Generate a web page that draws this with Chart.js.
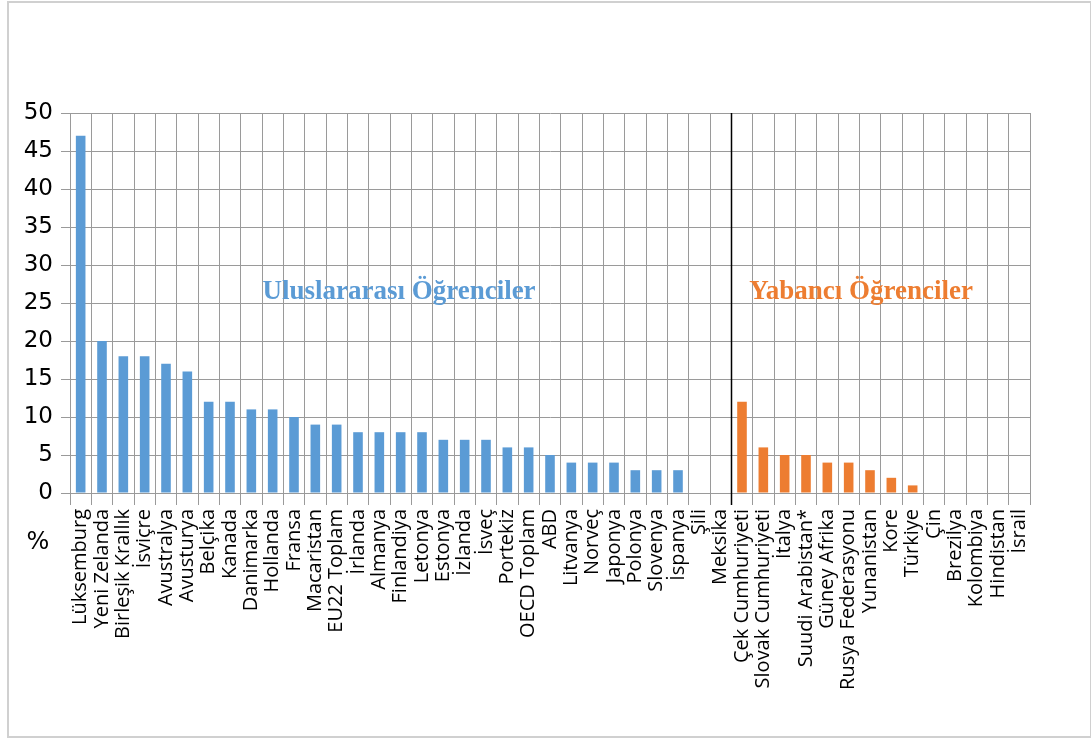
<!DOCTYPE html>
<html>
<head>
<meta charset="utf-8">
<script src="https://cdn.jsdelivr.net/npm/chart.js@4"></script>
<style>
  html, body { margin: 0; padding: 0; background: #fff; }
  #wrap { position: relative; width: 1091px; height: 738px; }
  #frame { position: absolute; left: 7px; top: 1px; width: 1081px; height: 733px; border: 2px solid #d0d0d0; pointer-events: none; }
</style>
</head>
<body>
<div id="wrap">
  <canvas id="chart" width="1091" height="738"></canvas>
  <div id="frame"></div>
</div>
<script>
const countries = [
  "Lüksemburg", "Yeni Zelanda", "Birleşik Krallık", "İsviçre", "Avustralya",
  "Avusturya", "Belçika", "Kanada", "Danimarka", "Hollanda", "Fransa",
  "Macaristan", "EU22 Toplam", "İrlanda", "Almanya", "Finlandiya", "Letonya",
  "Estonya", "İzlanda", "İsveç", "Portekiz", "OECD Toplam", "ABD", "Litvanya",
  "Norveç", "Japonya", "Polonya", "Slovenya", "İspanya", "Şili", "Meksika",
  "Çek Cumhuriyeti", "Slovak Cumhuriyeti", "İtalya", "Suudi Arabistan*",
  "Güney Afrika", "Rusya Federasyonu", "Yunanistan", "Kore", "Türkiye", "Çin",
  "Brezilya", "Kolombiya", "Hindistan", "İsrail"
];

// Uluslararası öğrenciler (left group), null where no bar
const international = [
  47, 20, 18, 18, 17, 16, 12, 12, 11, 11, 10, 9, 9, 8, 8, 8, 8, 7, 7, 7,
  6, 6, 5, 4, 4, 4, 3, 3, 3, null, null
];
// Yabancı öğrenciler (right group)
const foreign = [12, 6, 5, 5, 4, 4, 3, 2, 1, null, null, null, null, null];

const yTicks = [0, 5, 10, 15, 20, 25, 30, 35, 40, 45, 50];

const blue = "#5b9bd5";
const orange = "#ed7d31";
const gridColor = "#9a9a9a";

const splitAt = international.length; // first foreign index

const blueData = countries.map((_, i) => (i < splitAt ? international[i] : null));
const orangeData = countries.map((_, i) => (i >= splitAt ? foreign[i - splitAt] : null));

const extras = {
  id: "extras",
  afterDatasetsDraw(chart) {
    const { ctx, chartArea, scales } = chart;
    const x = scales.x;
    const xs = (x.getPixelForValue(splitAt - 1) + x.getPixelForValue(splitAt)) / 2;
    ctx.save();
    ctx.strokeStyle = "#000";
    ctx.lineWidth = 1.5;
    ctx.beginPath();
    ctx.moveTo(Math.round(xs) + 0.5, chartArea.top);
    ctx.lineTo(Math.round(xs) + 0.5, chartArea.bottom + 12);
    ctx.stroke();

    ctx.font = "bold 27px 'Liberation Serif'";
    ctx.textAlign = "center";
    ctx.textBaseline = "middle";
    const yMid = scales.y.getPixelForValue(26.5);
    ctx.fillStyle = blue;
    ctx.fillText("Uluslararası Öğrenciler", 399, yMid);
    ctx.fillStyle = orange;
    ctx.fillText("Yabancı Öğrenciler", 861, yMid);

    ctx.fillStyle = "#000";
    ctx.font = "24px 'DejaVu Sans'";
    ctx.fillText("%", 38, 543);
    ctx.restore();
  }
};

Chart.register(extras);

new Chart(document.getElementById("chart"), {
  type: "bar",
  data: {
    labels: countries,
    datasets: [
      {
        label: "Uluslararası Öğrenciler",
        data: blueData,
        backgroundColor: blue,
        barPercentage: 0.45,
        categoryPercentage: 1,
        grouped: false,
      },
      {
        label: "Yabancı Öğrenciler",
        data: orangeData,
        backgroundColor: orange,
        barPercentage: 0.45,
        categoryPercentage: 1,
        grouped: false,
      },
    ],
  },
  options: {
    responsive: false,
    animation: false,
    layout: { padding: { top: 113, left: 0, right: 61, bottom: 0 } },
    plugins: { legend: { display: false }, tooltip: { enabled: false } },
    scales: {
      x: {
        offset: true,
        grid: { color: gridColor, offset: true, tickLength: 12, drawTicks: true },
        border: { color: gridColor },
        ticks: {
          autoSkip: false,
          maxRotation: 90,
          minRotation: 90,
          padding: 4,
          color: "#000",
          font: { family: "'Open Sans'", size: 20 },
        },
        afterFit(scale) { scale.height = 245; },
      },
      y: {
        min: 0,
        max: 50,
        afterBuildTicks(scale) { scale.ticks = yTicks.map((v) => ({ value: v })); },
        grid: { color: gridColor, tickLength: 9 },
        border: { color: gridColor },
        ticks: {
          color: "#000",
          padding: 8,
          font: { family: "'DejaVu Sans'", size: 23 },
        },
        afterFit(scale) { scale.width = 70; },
      },
    },
  },
});
</script>
</body>
</html>
